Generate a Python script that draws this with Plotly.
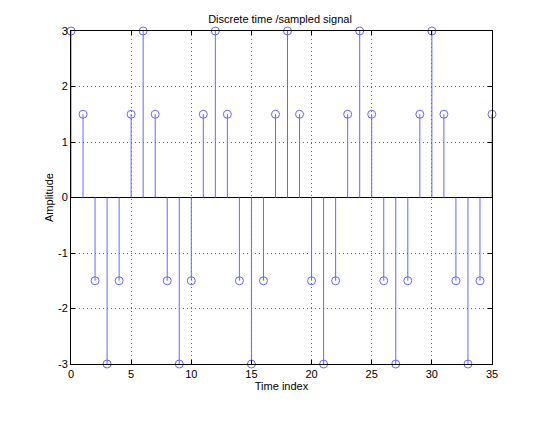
import plotly.graph_objects as go

n = list(range(36))
amplitude = [3, 1.5, -1.5, -3, -1.5, 1.5,
             3, 1.5, -1.5, -3, -1.5, 1.5,
             3, 1.5, -1.5, -3, -1.5, 1.5,
             3, 1.5, -1.5, -3, -1.5, 1.5,
             3, 1.5, -1.5, -3, -1.5, 1.5,
             3, 1.5, -1.5, -3, -1.5, 1.5]
x_ticks = [0, 5, 10, 15, 20, 25, 30, 35]
y_ticks = [-3, -2, -1, 0, 1, 2, 3]
y_tick_labels = ["-3", "-2", "-1", "0", "1", "2", "3"]

stem_x, stem_y = [], []
for xi, yi in zip(n, amplitude):
    stem_x += [xi, xi, None]
    stem_y += [0, yi, None]

blue = "#6666ff"
fig = go.Figure()
fig.add_trace(go.Scatter(x=stem_x, y=stem_y, mode="lines",
                         line=dict(color=blue, width=1), hoverinfo="skip", showlegend=False))
fig.add_trace(go.Scatter(x=n, y=amplitude, mode="markers",
                         marker=dict(symbol="circle-open", size=8, color=blue, line=dict(width=1, color=blue)),
                         showlegend=False, cliponaxis=False))

axis_common = dict(showline=True, linecolor="black", linewidth=1, mirror="ticks",
                   ticks="inside", ticklen=4, tickcolor="black",
                   showgrid=True, gridcolor="#666666", griddash="1px,3px", gridwidth=1,
                   tickfont=dict(size=11, color="black"))
fig.update_layout(
    width=560, height=421,
    margin=dict(l=71, r=68, t=31, b=57),
    paper_bgcolor="white", plot_bgcolor="white",
    font=dict(family="Liberation Sans, Arial, sans-serif", size=11, color="black"),
    title=dict(text="Discrete time /sampled signal", x=0.5, xanchor="center", y=0.955, yanchor="middle",
               font=dict(size=11)),
    xaxis=dict(range=[0, 35], tickvals=x_ticks, zeroline=False,
               title=dict(text="Time index", standoff=2, font=dict(size=11)), **axis_common),
    yaxis=dict(range=[-3, 3], tickvals=y_ticks, ticktext=y_tick_labels,
               zeroline=True, zerolinecolor="black", zerolinewidth=1,
               title=dict(text="Amplitude", standoff=2, font=dict(size=11)), **axis_common),
)
fig.write_html("out.html")
